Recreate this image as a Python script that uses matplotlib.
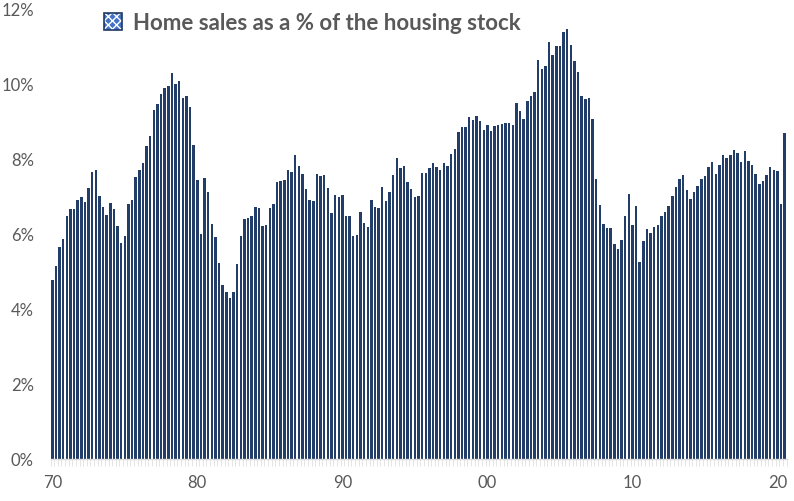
import numpy as np
import matplotlib
matplotlib.use('Agg')
import matplotlib.pyplot as plt
from matplotlib.patches import Patch
from matplotlib.legend_handler import HandlerTuple

# quarterly home sales as % of housing stock, 1970Q1 - 2020Q3
sales_pct = [
    4.76, 5.13, 5.64, 5.85, 6.47, 6.65, 6.65, 6.89, 6.97, 6.83,
    7.21, 7.63, 7.69, 7.00, 6.70, 6.49, 6.81, 6.64, 6.20, 5.75,
    5.93, 6.79, 6.88, 7.50, 7.69, 7.87, 8.33, 8.59, 9.29, 9.45,
    9.71, 9.86, 9.92, 10.27,
    9.98, 10.06, 9.61, 9.66, 9.37, 8.36, 7.42, 5.99, 7.48, 7.10,
    6.25, 5.91, 5.22, 4.63, 4.44, 4.28, 4.44, 5.19, 5.93, 6.39,
    6.41, 6.47, 6.71, 6.68, 6.20, 6.23, 6.68, 6.79, 7.37, 7.40,
    7.42, 7.69, 7.63, 8.09, 7.80,
    7.58, 7.18, 6.89, 6.86, 7.58, 7.53, 7.55, 7.21, 6.55, 7.03,
    6.97, 7.03, 6.47, 6.47, 5.93, 5.96, 6.57, 6.28, 6.17, 6.89,
    6.71, 6.68, 7.24, 6.86, 7.10, 7.55, 8.01, 7.74, 7.80, 7.37,
    7.18, 6.97, 7.00, 7.61,
    7.61, 7.74, 7.88, 7.77, 7.69, 7.88, 7.80, 8.12, 8.25, 8.70,
    8.83, 8.83, 9.10, 9.02, 9.13, 8.99, 8.75, 8.89, 8.73, 8.86,
    8.89, 8.91, 8.94, 8.94, 8.89, 9.47, 9.26, 9.05, 9.53, 9.66,
    9.77, 10.62, 10.38, 10.46,
    11.10, 10.75, 10.99, 10.99, 11.36, 11.44, 11.02, 10.59, 10.30, 9.66,
    9.58, 9.61, 9.05, 7.45, 6.76, 6.25, 6.15, 6.15, 5.72, 5.59,
    5.83, 6.47, 7.05, 6.23, 6.73, 5.24, 5.80, 6.12, 6.01, 6.17,
    6.23, 6.47, 6.57, 6.73, 7.00,
    7.24, 7.45, 7.55, 7.16, 6.92, 7.10, 7.26, 7.45, 7.53, 7.77,
    7.90, 7.58, 7.82, 8.09, 8.01, 8.09, 8.22, 8.14, 7.90, 8.20,
    7.93, 7.82, 7.58, 7.32, 7.40, 7.55, 7.77, 7.69, 7.66, 6.79,
    8.67,
]
year_labels = ['70', '80', '90', '00', '10', '20']
y_ticks = [0, 2, 4, 6, 8, 10, 12]
legend_label = 'Home sales as a % of the housing stock'

navy = '#213D68'
grey_text = '#595959'
grey_axis = '#D9D9D9'

x = np.arange(len(sales_pct))

fig = plt.figure(figsize=(7.94, 5.02), dpi=100)
ax = fig.add_axes([50.5 / 794, 42 / 502, 736 / 794, 451 / 502])

ax.bar(x, sales_pct, width=0.68, color=navy, edgecolor='none')

ax.set_xlim(-0.5, len(sales_pct) - 0.5)
ax.set_ylim(0, 12)

ax.set_yticks(y_ticks)
ax.set_yticklabels([f'{v}%' for v in y_ticks])
ax.set_xticks(np.arange(0, len(sales_pct), 40))
ax.set_xticklabels(year_labels)
ax.set_xticks(np.arange(-0.5, len(sales_pct), 1), minor=True)

ax.tick_params(axis='both', which='major', length=0, labelsize=12,
               labelcolor=grey_text)
ax.tick_params(axis='y', pad=12)
ax.tick_params(axis='x', which='major', pad=11)
ax.tick_params(axis='x', which='minor', length=5, color='#E0E0E0', width=0.6)
for lab in ax.get_xticklabels() + ax.get_yticklabels():
    lab.set_fontfamily('Lato')

for side in ['top', 'right', 'left']:
    ax.spines[side].set_visible(False)
ax.spines['bottom'].set_color(grey_axis)
ax.spines['bottom'].set_linewidth(1.0)

# legend marker: patterned square with dark border
h_fill = Patch(facecolor='#4472C4', edgecolor='white', hatch='xxxx', lw=0)
h_edge = Patch(facecolor='none', edgecolor='#1F3864', lw=1.2)
leg = fig.legend([(h_fill, h_edge)], [legend_label],
                 handler_map={tuple: HandlerTuple(ndivide=1)},
                 loc='center left', bbox_to_anchor=(84 / 794, 1 - 24 / 502),
                 frameon=False, handlelength=0.8, handleheight=0.8,
                 handletextpad=0.5,
                 prop={'family': 'Lato', 'weight': 'bold', 'size': 16})
for t in leg.get_texts():
    t.set_color(grey_text)

fig.savefig('out.png', dpi=100)
